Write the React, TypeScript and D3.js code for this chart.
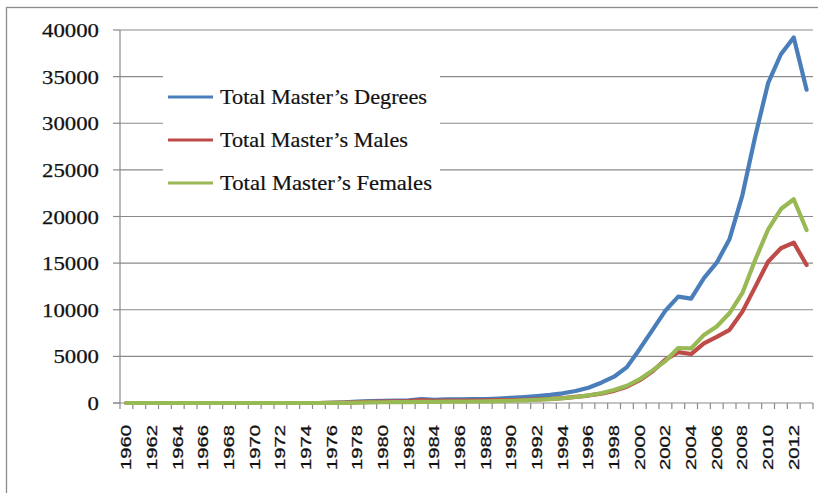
import React, { useEffect, useRef } from 'react';
import * as d3 from 'd3';

const years: number[] = d3.range(1960, 2014);

const totalDegrees: number[] = [
  0, 0, 0, 0, 0, 0, 0, 0, 0, 0, 0, 0, 0, 0, 0, 0,
  20, 60, 150, 200, 240, 260, 290, 420, 330, 380, 400, 410, 430, 480,
  560, 640, 740, 870, 1040, 1290, 1640, 2180, 2820, 3850,
  5800, 7850, 9900, 11400, 11200, 13400, 15050, 17600, 22300, 28600,
  34300, 37400, 39200, 33600,
];

const totalMales: number[] = [
  0, 0, 0, 0, 0, 0, 0, 0, 0, 0, 0, 0, 0, 0, 0, 0,
  10, 40, 100, 130, 160, 180, 200, 300, 230, 250, 260, 270, 280, 300,
  320, 350, 390, 450, 530, 650, 800, 1000, 1300, 1750,
  2450, 3400, 4650, 5450, 5250, 6400, 7100, 7850, 9800, 12450,
  15150, 16600, 17200, 14800,
];

const totalFemales: number[] = [
  0, 0, 0, 0, 0, 0, 0, 0, 0, 0, 0, 0, 0, 0, 0, 0,
  10, 20, 50, 70, 80, 90, 100, 120, 110, 140, 150, 160, 180, 200,
  240, 290, 350, 420, 510, 640, 820, 1050, 1400, 1850,
  2550, 3500, 4500, 5900, 5850, 7300, 8200, 9650, 11800, 15350,
  18600, 20800, 21850, 18550,
];

const yTicks: number[] = [0, 5000, 10000, 15000, 20000, 25000, 30000, 35000, 40000];
const xLabels: number[] = d3.range(1960, 2014, 2);

const seriesNames: string[] = [
  'Total Master’s Degrees',
  'Total Master’s Males',
  'Total Master’s Females',
];
const seriesColors: string[] = ['#4a7ebb', '#be4b48', '#98b954'];
const legendWidths: number[] = [207, 188, 212];

const App = () => {
  const svgRef = useRef<SVGSVGElement>(null);

  useEffect(() => {
    const width = 818;
    const height = 493;
    const left = 120;
    const right = 813;
    const top = 30;
    const bottom = 403;

    const svg = d3.select(svgRef.current);
    svg.selectAll('*').remove();
    svg.attr('width', width).attr('height', height);

    svg.append('rect')
      .attr('width', width).attr('height', height)
      .style('fill', '#fff');

    // outer frame (right and bottom edges fall outside the picture)
    svg.append('rect')
      .attr('x', 6.5).attr('y', 7.5)
      .attr('width', 830).attr('height', 500)
      .style('fill', 'none')
      .style('stroke', '#8c8c8c')
      .style('stroke-width', 1.3);

    const x = d3.scaleBand<number>().domain(years).range([left, right]).padding(0);
    const y = d3.scaleLinear().domain([0, 40000]).range([bottom, top]);
    const cx = (yr: number) => (x(yr) as number) + x.bandwidth() / 2;

    // gridlines
    svg.selectAll('.grid')
      .data(yTicks.filter(d => d > 0))
      .enter().append('line')
      .attr('x1', left).attr('x2', right)
      .attr('y1', d => y(d)).attr('y2', d => y(d))
      .style('stroke', '#8a8a8a')
      .style('stroke-width', 1.2);

    // y axis
    svg.append('line')
      .attr('x1', left).attr('x2', left)
      .attr('y1', top).attr('y2', bottom)
      .style('stroke', '#8a8a8a').style('stroke-width', 1.2);

    svg.selectAll('.ytick')
      .data(yTicks)
      .enter().append('line')
      .attr('x1', left - 7).attr('x2', left)
      .attr('y1', d => y(d)).attr('y2', d => y(d))
      .style('stroke', '#8a8a8a').style('stroke-width', 1.2);

    svg.selectAll('.ylabel')
      .data(yTicks)
      .enter().append('text')
      .attr('x', 99)
      .attr('y', d => y(d))
      .attr('dy', '0.36em')
      .attr('text-anchor', 'end')
      .attr('textLength', d => String(d).length * 11.4)
      .attr('lengthAdjust', 'spacingAndGlyphs')
      .style('font-family', '"Liberation Serif", "Times New Roman", serif')
      .style('font-size', '19.5px')
      .style('fill', '#111')
      .style('stroke', '#111')
      .style('stroke-width', 0.25)
      .text(d => d);

    // x axis
    svg.append('line')
      .attr('x1', left - 7).attr('x2', right)
      .attr('y1', bottom).attr('y2', bottom)
      .style('stroke', '#8a8a8a').style('stroke-width', 1.2);

    const boundaries = years.map(d => x(d) as number).concat([right]);
    svg.selectAll('.xtick')
      .data(boundaries)
      .enter().append('line')
      .attr('x1', d => d).attr('x2', d => d)
      .attr('y1', bottom).attr('y2', bottom + 6)
      .style('stroke', '#8a8a8a').style('stroke-width', 1.2);

    svg.selectAll('.xlabel')
      .data(xLabels)
      .enter().append('text')
      .attr('transform', d => `translate(${cx(d)},425) rotate(-90)`)
      .attr('dy', '0.35em')
      .attr('text-anchor', 'end')
      .attr('textLength', 45)
      .attr('lengthAdjust', 'spacingAndGlyphs')
      .style('font-family', '"Liberation Sans", Arial, sans-serif')
      .style('font-size', '14px')
      .style('fill', '#111')
      .style('stroke', '#111')
      .style('stroke-width', 0.25)
      .text(d => d);

    // series lines
    const line = d3.line<number>()
      .x((d, i) => cx(years[i]))
      .y(d => y(d));

    [totalDegrees, totalMales, totalFemales].forEach((values, k) => {
      svg.append('path')
        .datum(values)
        .attr('d', line)
        .style('fill', 'none')
        .style('stroke', seriesColors[k])
        .style('stroke-width', 4.2)
        .style('stroke-linejoin', 'round')
        .style('stroke-linecap', 'round');
    });

    // legend
    const legend = svg.append('g');
    legend.append('rect')
      .attr('x', 163).attr('y', 62)
      .attr('width', 277).attr('height', 142)
      .style('fill', '#fff');

    const rows = legend.selectAll('.legend')
      .data(seriesNames)
      .enter().append('g')
      .attr('transform', (d, i) => `translate(0,${97 + i * 43})`);

    rows.append('line')
      .attr('x1', 168).attr('x2', 213)
      .attr('y1', 0).attr('y2', 0)
      .style('stroke', (d, i) => seriesColors[i])
      .style('stroke-width', 3);

    rows.append('text')
      .attr('x', 220).attr('y', 7)
      .attr('textLength', (d, i) => legendWidths[i])
      .attr('lengthAdjust', 'spacingAndGlyphs')
      .style('font-family', '"Liberation Serif", "Times New Roman", serif')
      .style('font-size', '21px')
      .style('fill', '#111')
      .style('stroke', '#111')
      .style('stroke-width', 0.2)
      .text(d => d);
  }, []);

  return (
    <svg ref={svgRef} style={{ position: 'absolute', left: 0, top: 0 }}></svg>
  );
};

export default App;
